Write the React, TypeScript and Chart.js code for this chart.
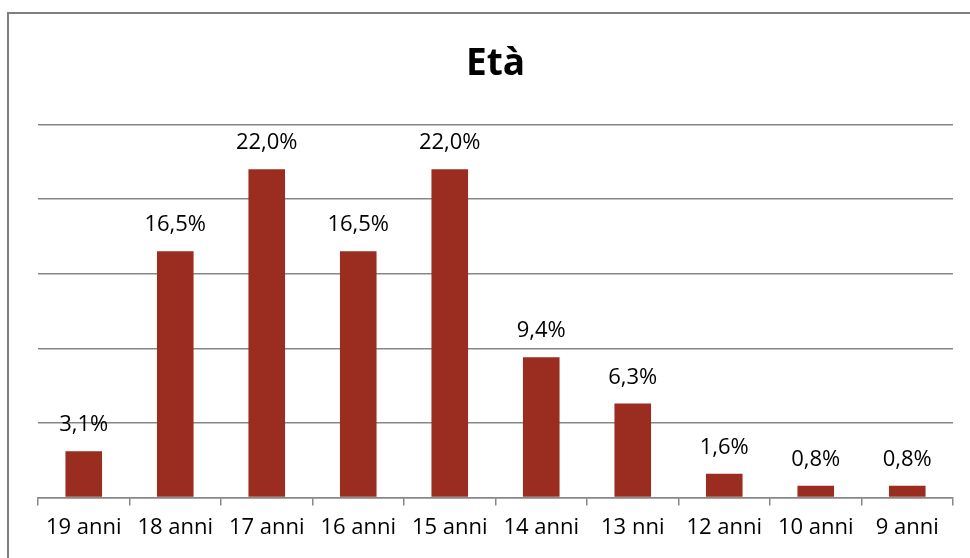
import React, { useEffect, useRef } from "react";
import { Chart, registerables } from "chart.js";

Chart.register(...registerables);

const categories = ["19 anni", "18 anni", "17 anni", "16 anni", "15 anni", "14 anni", "13 nni", "12 anni", "10 anni", "9 anni"];
const percentages = [3.1, 16.5, 22.0, 16.5, 22.0, 9.4, 6.3, 1.6, 0.8, 0.8];
const yMax = 25;
const yStep = 5;
const titleText = "Età";

const FONT = "'Open Sans', sans-serif";

const frameBorder = {
  id: "frameBorder",
  afterDraw(chart: any) {
    const ctx = chart.ctx;
    ctx.save();
    ctx.strokeStyle = "#7f7f7f";
    ctx.lineWidth = 2;
    ctx.beginPath();
    ctx.moveTo(8, chart.height);
    ctx.lineTo(8, 13);
    ctx.lineTo(chart.width, 13);
    ctx.stroke();
    ctx.restore();
  },
};

const valueLabels = {
  id: "valueLabels",
  afterDatasetsDraw(chart: any) {
    const ctx = chart.ctx;
    const meta = chart.getDatasetMeta(0);
    ctx.save();
    ctx.fillStyle = "#000000";
    ctx.font = `22px ${FONT}`;
    ctx.textAlign = "center";
    ctx.textBaseline = "alphabetic";
    meta.data.forEach((bar: any, i: number) => {
      const txt = percentages[i].toFixed(1).replace(".", ",") + "%";
      ctx.fillText(txt, bar.x, bar.y - 20);
    });
    ctx.restore();
  },
};

export default function App() {
  const ref = useRef<HTMLCanvasElement>(null);
  useEffect(() => {
    if (!ref.current) return;
    const chart = new Chart(ref.current, {
      type: "bar",
      data: {
        labels: categories,
        datasets: [
          {
            data: percentages,
            backgroundColor: "#9b2d20",
            borderWidth: 0,
            barPercentage: 0.4,
            categoryPercentage: 1,
          },
        ],
      },
      options: {
        responsive: false,
        animation: false,
        layout: { padding: { left: 38, right: 17, top: 20, bottom: 8 } },
        plugins: {
          legend: { display: false },
          tooltip: { enabled: false },
          title: {
            display: true,
            text: titleText,
            color: "#000000",
            font: { family: FONT, size: 37, weight: "bold" },
            padding: { top: 22, bottom: 38 },
          },
        },
        scales: {
          x: {
            grid: {
              display: true,
              drawOnChartArea: false,
              offset: true,
              tickLength: 8,
              color: "#878787",
              lineWidth: 1.5,
            },
            border: { display: true, color: "#878787", width: 1.5 },
            ticks: {
              color: "#000000",
              font: { family: FONT, size: 22 },
              padding: 9,
              maxRotation: 0,
              autoSkip: false,
            },
          },
          y: {
            min: 0,
            max: yMax,
            ticks: { display: false, stepSize: yStep },
            grid: { color: "#878787", lineWidth: 1.5, drawTicks: false, tickLength: 0 },
            border: { display: false },
          },
        },
      },
      plugins: [frameBorder, valueLabels],
    });
    return () => chart.destroy();
  }, []);
  return (
    <div style={{ position: "fixed", left: 0, top: 0, width: 970, height: 558, background: "#fff" }}>
      <canvas ref={ref} width={970} height={558} />
    </div>
  );
}
